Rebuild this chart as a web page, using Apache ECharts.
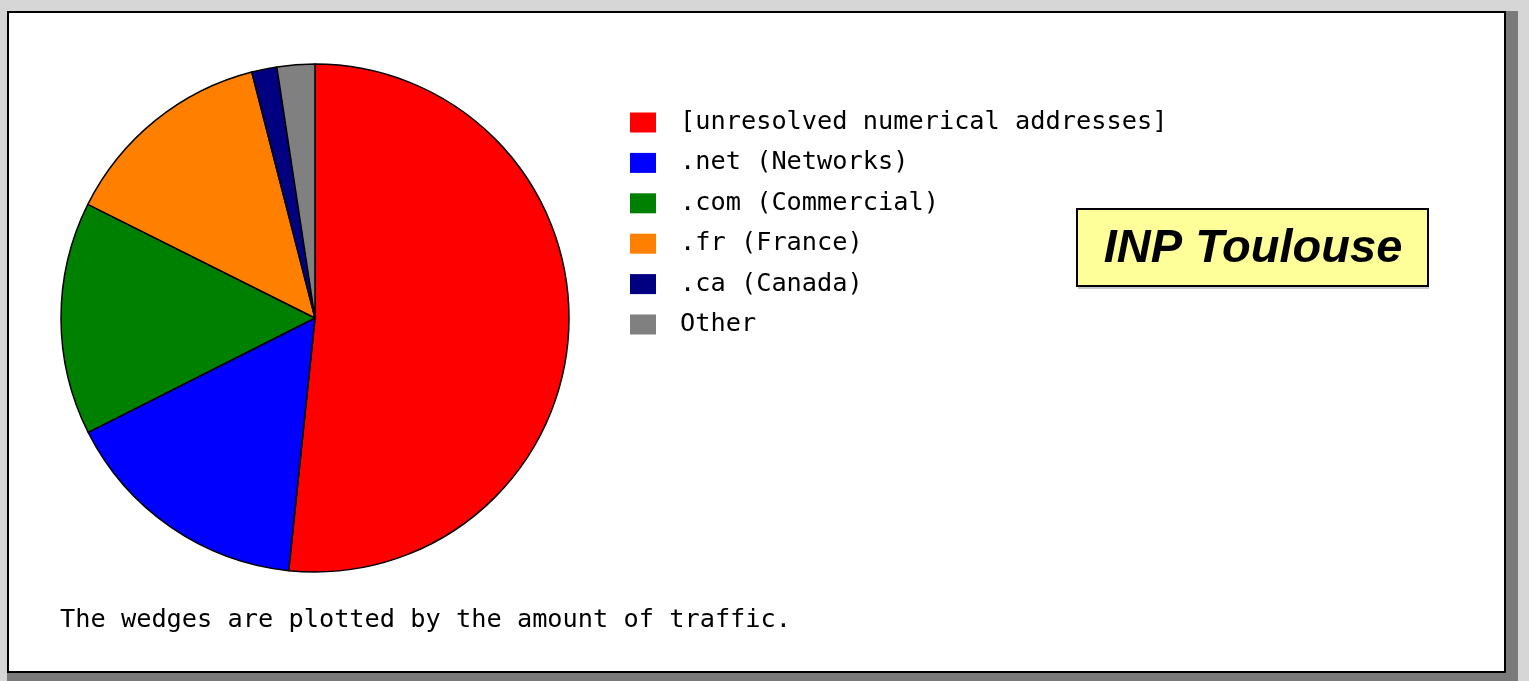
<!DOCTYPE html>
<html>
<head>
<meta charset="utf-8">
<script src="https://cdn.jsdelivr.net/npm/echarts@6/dist/echarts.min.js"></script>
<style>
  html, body { margin: 0; padding: 0; background: #d6d6d6; }
  #main { width: 1529px; height: 681px; }
</style>
</head>
<body>
<div id="main"></div>
<script>
var categories = ['[unresolved numerical addresses]', '.net (Networks)', '.com (Commercial)', '.fr (France)', '.ca (Canada)', 'Other'];
var traffic = [51.6, 15.9, 14.8, 13.6, 1.6, 2.4];
var colors = ['#ff0000', '#0000ff', '#008000', '#ff8000', '#000080', '#808080'];
var chartTitle = 'INP Toulouse';
var footNote = 'The wedges are plotted by the amount of traffic.';

var myChart = echarts.init(document.getElementById('main'));
var mono = '"DejaVu Sans Mono", "Liberation Mono", monospace';

var pieData = categories.map(function (name, i) {
    return { name: name, value: traffic[i], itemStyle: { color: colors[i] } };
});

option = {
    animation: false,
    backgroundColor: '#d6d6d6',
    legend: {
        orient: 'vertical',
        left: 630,
        top: 110,
        padding: 0,
        itemWidth: 26,
        itemHeight: 20,
        itemGap: 15.4,
        icon: 'rect',
        selectedMode: false,
        data: categories,
        itemStyle: { borderWidth: 0 },
        textStyle: {
            fontFamily: mono,
            fontSize: 25.3,
            lineHeight: 20,
            color: '#000',
            padding: [0, 0, 0, 19]
        }
    },
    graphic: [
        // panel frame
        { type: 'rect', shape: { x: 1506, y: 11, width: 12, height: 670 }, style: { fill: '#7a7a7a' }, silent: true },
        { type: 'rect', shape: { x: 7, y: 672, width: 1511, height: 9 }, style: { fill: '#7a7a7a' }, silent: true },
        { type: 'rect', shape: { x: 8, y: 12, width: 1497, height: 660 }, style: { fill: '#ffffff', stroke: '#000', lineWidth: 2 }, silent: true, z: 0 },
        // title box
        { type: 'rect', shape: { x: 1078, y: 211, width: 351, height: 78 }, style: { fill: '#c8c8c8' }, silent: true, z: 5 },
        { type: 'rect', shape: { x: 1077, y: 209, width: 351, height: 77 }, style: { fill: '#ffff99', stroke: '#000', lineWidth: 2 }, silent: true, z: 6 },
        {
            type: 'text', x: 1253, y: 249, z: 7, silent: true,
            style: {
                text: chartTitle, fill: '#000', align: 'center', verticalAlign: 'middle',
                font: 'italic bold 47px "Liberation Sans", Arial, sans-serif'
            }
        },
        {
            type: 'text', x: 60, y: 620, z: 7, silent: true,
            style: {
                text: footNote, fill: '#000', verticalAlign: 'middle',
                font: '25.3px "DejaVu Sans Mono", "Liberation Mono", monospace'
            }
        }
    ],
    series: [
        {
            name: 'traffic',
            type: 'pie',
            center: [315, 318],
            radius: 254,
            startAngle: 90,
            clockwise: true,
            avoidLabelOverlap: false,
            label: { show: false },
            labelLine: { show: false },
            emphasis: { disabled: true },
            itemStyle: { borderColor: '#000', borderWidth: 1.5 },
            data: pieData,
            z: 3
        }
    ]
};

myChart.setOption(option);
</script>
</body>
</html>
